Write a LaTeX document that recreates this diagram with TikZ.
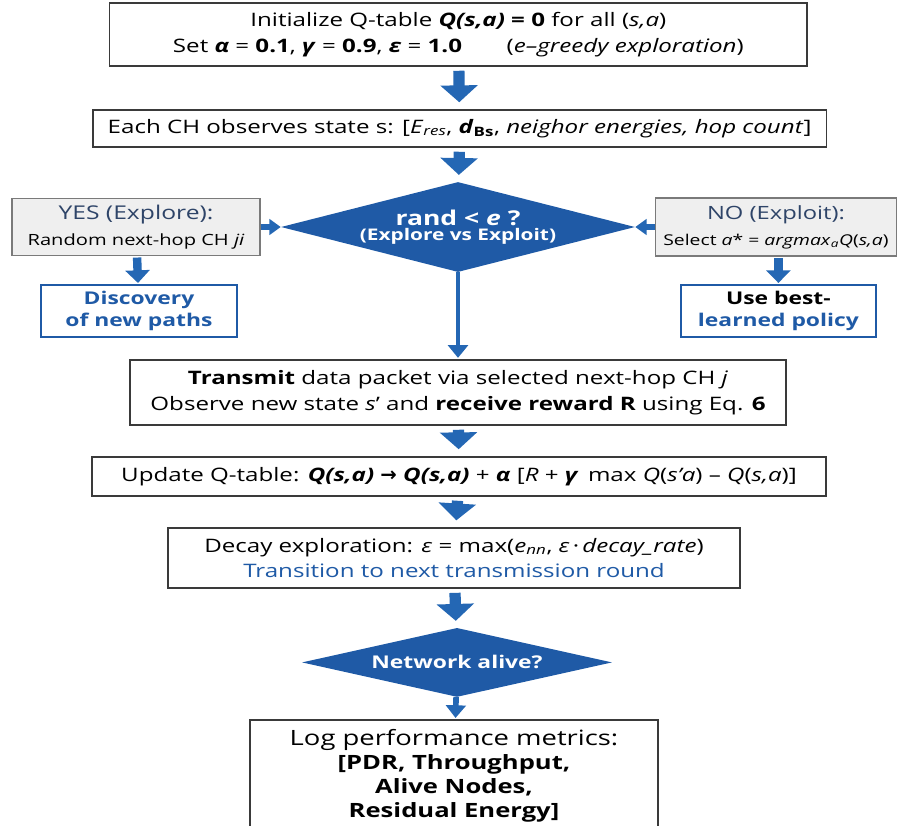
\documentclass[tikz,border=0pt]{standalone}
\usepackage{fontspec}
\setmainfont{Open Sans}[FakeStretch=1.3]
\setsansfont{Open Sans}[FakeStretch=1.3]
\newfontfamily\arrowfont{DejaVu Sans}
\usepackage{xcolor}
\definecolor{qblue}{HTML}{1F5AA6}
\definecolor{qarrow}{HTML}{2467B4}
\definecolor{qslate}{HTML}{2E4468}
\definecolor{qgrayfill}{HTML}{EFEFEF}
\definecolor{qgrayline}{HTML}{7A7A7A}
\definecolor{qline}{HTML}{3A3A3A}
\usepackage{tikz}
\usetikzlibrary{shapes.geometric, arrows.meta, positioning, calc}
\newcommand{\metric}[1]{{\bfseries\fontsize{14}{17.2}\selectfont #1}}

\begin{document}
\begin{tikzpicture}[every node/.style={font=\sffamily}]
\tikzstyle{stepbox}=[rectangle, draw=qline, line width=0.9pt, fill=white, align=center,
  inner sep=2pt, font=\sffamily\fontsize{13.2}{18.4}\selectfont]
\tikzstyle{choice}=[stepbox, fill=qgrayfill, draw=qgrayline]
\tikzstyle{outcome}=[stepbox, draw=qblue, font=\sffamily\bfseries\fontsize{12.5}{15.5}\selectfont]
\tikzstyle{decision}=[diamond, fill=qblue, draw=none, inner sep=0pt, align=center,
  text=white, font=\sffamily\bfseries]
\tikzstyle{fatarrow}=[draw=qarrow, line width=8pt, shorten <=3pt, shorten >=5pt,
  -{Triangle[width=26pt,length=12pt]}]
\tikzstyle{thinarrow}=[draw=qarrow, line width=3pt, -{Triangle[width=14pt,length=9pt]}]
\tikzstyle{sidearrow}=[draw=qarrow, line width=4pt, -{Triangle[width=11pt,length=8pt]}]
\tikzstyle{droparrow}=[draw=qarrow, line width=6pt, shorten <=1pt, shorten >=1pt,
  -{Triangle[width=17pt,length=9pt]}]
\useasboundingbox (0,0) rectangle (22.425,-20.625);

\node[stepbox, minimum width=17.43cm, minimum height=1.575cm] (init) at (11.46,-0.86)
  {Initialize Q-table \textbf{\textit{Q(s,a)} = 0} for all (\textit{s,a})\\
   Set \textbf{\textit{α}} = \textbf{0.1}, \textbf{\textit{γ}} = \textbf{0.9}, \textbf{\textit{ε}} = \textbf{1.0}\hspace{2.4em}(\textit{e–greedy exploration})};
\node[stepbox, minimum width=18.33cm, minimum height=0.925cm] (observe) at (11.49,-3.21)
  {Each CH observes state s: [\textit{E}\textsubscript{\textit{res}}, \textbf{\textit{d}}\textsubscript{\textbf{Bs}}, \textit{neighor energies, hop count}]};
\node[decision, aspect=3.9, minimum width=8.85cm, minimum height=2.25cm] (rand) at (11.45,-5.675)
  {{\fontsize{14.5}{18}\selectfont rand < \textit{e} ?}\\[-1pt]{\fontsize{11.4}{14}\selectfont (Explore vs Exploit)}};
\node[choice, minimum width=6.2cm, minimum height=1.425cm] (explore) at (3.4,-5.675)
  {{\fontsize{13.5}{18}\selectfont\textcolor{qslate}{YES (Explore):}}\\{\fontsize{11}{15}\selectfont Random next-hop CH \textit{ji}}};
\node[choice, minimum width=6.03cm, minimum height=1.45cm] (exploit) at (19.4,-5.675)
  {{\fontsize{13}{18}\selectfont\textcolor{qslate}{NO (Exploit):}}\\{\fontsize{10.6}{15}\selectfont Select \textit{a}* = \textit{argmax}\textsubscript{\textit{a}}\textit{Q}(\textit{s,a})}};
\node[outcome, minimum width=4.9cm, minimum height=1.3cm, text=qblue] (discover) at (3.475,-7.775)
  {Discovery\\of new paths};
\node[outcome, minimum width=4.875cm, minimum height=1.3cm] (policy) at (19.46,-7.775)
  {Use best-\\\textcolor{qblue}{learned policy}};
\node[stepbox, minimum width=16.4cm, minimum height=1.625cm] (transmit) at (11.45,-9.81)
  {\textbf{Transmit} data packet via selected next-hop CH \textit{j}\\
   Observe new state \textit{s}’ and \textbf{receive reward R} using Eq. \textbf{6}};
\node[stepbox, minimum width=18.35cm, minimum height=0.975cm] (update) at (11.475,-11.91)
  {Update Q-table: \textbf{\textit{Q(s,a)}} {\arrowfont\bfseries\fontsize{14}{14}\selectfont →} \textbf{\textit{Q(s,a)}} + \textbf{\textit{α}} [\textit{R} + \textbf{\textit{γ}}\, max \textit{Q}(\textit{s’a}) – \textit{Q}(\textit{s,a})]};
\node[stepbox, minimum width=14.3cm, minimum height=1.5cm] (decay) at (11.35,-13.95)
  {Decay exploration: \textit{ε} = max(\textit{e}\textsubscript{\textit{nn}}, \textit{ε}\,·\,\textit{decay\_rate})\\
   \textcolor{qblue}{Transition to next transmission round}};
\node[decision, aspect=4.5, minimum width=7.75cm, minimum height=1.725cm, font=\sffamily\bfseries\fontsize{12.5}{16}\selectfont] (alive) at (11.425,-16.56)
  {Network alive?};
\node[stepbox, minimum width=10.2cm, minimum height=2.8cm, font=\sffamily\fontsize{15}{17.2}\selectfont] (metrics) at (11.35,-19.4)
  {Log performance metrics:\\\metric{[PDR, Throughput,}\\\metric{Alive Nodes,}\\\metric{Residual Energy]}};

\draw[fatarrow] (init) -- (observe);
\draw[fatarrow] (observe) -- (rand);
\draw[thinarrow, shorten >=1pt] (rand) -- (transmit);
\draw[sidearrow] (explore) -- (rand);
\draw[sidearrow] (exploit) -- (rand);
\draw[droparrow] (explore) -- (discover);
\draw[droparrow] (exploit.south -| policy) -- (policy);
\draw[fatarrow] (transmit) -- (update);
\draw[fatarrow] (update) -- (decay);
\draw[fatarrow] (decay) -- (alive);
\draw[thinarrow, line width=4pt, shorten >=1pt] (alive) -- (metrics);
\end{tikzpicture}
\end{document}
